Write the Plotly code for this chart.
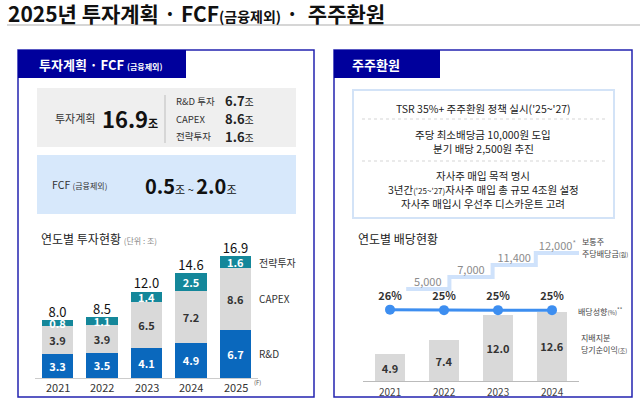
import plotly.graph_objects as go

# ---- data ----
years_inv = ["2021", "2022", "2023", "2024", "2025"]
rnd = [3.3, 3.5, 4.1, 4.9, 6.7]
capex = [3.9, 3.9, 6.5, 7.2, 8.6]
strategic = [0.8, 1.1, 1.4, 2.5, 1.6]

years_div = ["2021", "2022", "2023", "2024"]
dps_labels = ["5,000", "7,000", "11,400", "12,000"]
dps_notes = ["", "", "", "*"]
payout = [26, 25, 25, 25]
net_income = [4.9, 7.4, 12.0, 12.6]

W, H = 640, 401
FONT = "Noto Sans CJK KR"
NAVY = "#00009c"
BORDER = "#2323b0"


def px(x):
    return x / W


def py(y):
    return 1 - y / H


def dom_y(top, bottom):
    return [py(bottom), py(top)]


fig = go.Figure()

# ---- left: yearly investment (stacked) ----
idx5 = list(range(len(years_inv)))
fig.add_trace(go.Bar(x=idx5, y=rnd, marker_color="#0a68bd", text=rnd,
                     textfont=dict(color="white", size=11, family=FONT),
                     xaxis="x", yaxis="y"))
fig.add_trace(go.Bar(x=idx5, y=capex, marker_color="#d9d9d9", text=capex,
                     textfont=dict(color="#333333", size=11, family=FONT),
                     xaxis="x", yaxis="y"))
fig.add_trace(go.Bar(x=idx5, y=strategic, marker_color="#14879a", text=strategic,
                     textfont=dict(color="white", size=11, family=FONT),
                     xaxis="x", yaxis="y"))
fig.update_traces(selector=dict(type="bar"), texttemplate="<b>%{text:.1f}</b>",
                  textposition="inside", insidetextanchor="middle",
                  constraintext="none", marker_line_width=0)

totals = [round(a + b + c, 1) for a, b, c in zip(rnd, capex, strategic)]
fig.add_trace(go.Scatter(x=idx5, y=totals, mode="text",
                         text=[f"{t:.1f}" for t in totals],
                         textposition="top center",
                         textfont=dict(size=13, color="#111111", family=FONT),
                         xaxis="x", yaxis="y"))

# ---- right: dividends ----
idx4 = list(range(len(years_div)))
fig.add_trace(go.Bar(x=idx4, y=net_income, marker_color="#d9d9d9",
                     marker_line_width=0, text=net_income, width=30 / 54,
                     texttemplate="<b>%{text:.1f}</b>", textposition="inside",
                     insidetextanchor="middle", constraintext="none",
                     textfont=dict(color="#333333", size=11, family=FONT),
                     xaxis="x2", yaxis="y2"))

step_x = [i - 0.5 for i in idx4] + [idx4[-1] + 0.5]
step_y = dps_labels + [dps_labels[-1]]
fig.add_trace(go.Scatter(x=step_x, y=step_y, mode="lines", line_shape="hv",
                         line=dict(color="#cfe2fb", width=4),
                         xaxis="x3", yaxis="y3"))
fig.add_trace(go.Scatter(x=idx4, y=dps_labels, mode="text",
                         text=[l + (f"<sup>{n}</sup>" if n else "")
                               for l, n in zip(dps_labels, dps_notes)],
                         textposition="top center",
                         textfont=dict(size=11, color="#8c8c8c",
                                       family="Liberation Sans Narrow, " + FONT),
                         xaxis="x3", yaxis="y3"))

fig.add_trace(go.Scatter(x=idx4, y=payout, mode="lines+markers+text",
                         line=dict(color="#3d8ef0", width=3),
                         marker=dict(size=10, color="#3d8ef0"),
                         text=[f"<b>{p}%</b>" for p in payout],
                         textposition="top center",
                         textfont=dict(size=11, color="#333333", family=FONT),
                         xaxis="x2", yaxis="y4"))

# ---- axes ----
ax_common = dict(showgrid=False, zeroline=False, fixedrange=True)
fig.update_layout(
    xaxis=dict(domain=[px(35.25), px(257.75)], range=[-0.5, 4.5], showline=True,
               linecolor="#cccccc", showticklabels=False, ticks="", anchor="y",
               **ax_common),
    yaxis=dict(domain=dom_y(240, 378), range=[0, (378 - 240) / 7.2],
               visible=False, **ax_common),
    xaxis2=dict(domain=[px(363), px(579)], range=[-0.5, 3.5], showline=True,
                linecolor="#bbbbbb", showticklabels=False, ticks="", anchor="y2",
                **ax_common),
    yaxis2=dict(domain=dom_y(240, 381), range=[0, (381 - 240) / 5.5],
                visible=False, **ax_common),
    xaxis3=dict(domain=[px(346.2), px(578.85)], range=[-1.5, 3.5],
                overlaying="x2", visible=False, **ax_common),
    yaxis3=dict(type="category", categoryorder="array", categoryarray=dps_labels,
                range=[-92 / 12, -92 / 12 + 141 / 12], overlaying="y2",
                visible=False, **ax_common),
    yaxis4=dict(range=[25.25 - 142, 25.25 + 140], overlaying="y2",
                visible=False, **ax_common),
    barmode="stack", bargap=0.29, showlegend=False,
    width=W, height=H, margin=dict(l=0, r=0, t=0, b=0),
    paper_bgcolor="white", plot_bgcolor="rgba(0,0,0,0)",
    font=dict(family=FONT, color="#222222"),
)

# year labels under both charts
for i, yr in zip(idx5, years_inv):
    fig.add_annotation(x=i, xref="x", y=py(387), yref="paper", text=yr,
                       showarrow=False, yanchor="middle",
                       font=dict(size=11, color="#333333", family=FONT))
for i, yr in zip(idx4, years_div):
    fig.add_annotation(x=i, xref="x2", y=py(391), yref="paper", text=yr,
                       showarrow=False, yanchor="middle",
                       font=dict(size=10, color="#444444", family=FONT))

# ---- panels / boxes ----
shapes = [
    dict(type="line", x0=px(7), x1=px(640), y0=py(25), y1=py(25),
         line=dict(color="#c8c8c8", width=1.5)),
    dict(type="rect", x0=px(18), x1=px(314), y0=py(50), y1=py(397),
         line=dict(color=BORDER, width=1.5)),
    dict(type="rect", x0=px(18), x1=px(186), y0=py(50), y1=py(78),
         fillcolor=NAVY, line=dict(width=0)),
    dict(type="rect", x0=px(334), x1=px(632), y0=py(50), y1=py(397),
         line=dict(color=BORDER, width=1.5)),
    dict(type="rect", x0=px(334), x1=px(440), y0=py(50), y1=py(78),
         fillcolor=NAVY, line=dict(width=0)),
    dict(type="rect", x0=px(37), x1=px(296), y0=py(88), y1=py(147),
         fillcolor="#efefef", line=dict(width=0)),
    dict(type="line", x0=px(165), x1=px(165), y0=py(95), y1=py(143),
         line=dict(color="#bdbdbd", width=1)),
    dict(type="rect", x0=px(37), x1=px(296), y0=py(155), y1=py(214),
         fillcolor="#d7e8fb", line=dict(width=0)),
    dict(type="rect", x0=px(353), x1=px(614), y0=py(90), y1=py(218),
         fillcolor="white", line=dict(color="#d3e3f7", width=2)),
    dict(type="line", x0=px(362), x1=px(605), y0=py(119), y1=py(119),
         line=dict(color="#d5d5d5", width=1, dash="dot")),
    dict(type="line", x0=px(362), x1=px(605), y0=py(161), y1=py(161),
         line=dict(color="#d5d5d5", width=1, dash="dot")),
]
for s in shapes:
    s.update(xref="paper", yref="paper", layer="below")
fig.update_layout(shapes=shapes)


def note(x, y, text, size=11, color="#222222", anchor="left", bold=False):
    if bold:
        text = f"<b>{text}</b>"
    fig.add_annotation(x=px(x), y=py(y), xref="paper", yref="paper", text=text,
                       showarrow=False, xanchor=anchor, yanchor="middle",
                       font=dict(size=size, color=color, family=FONT))


note(6, 13, "2025년 투자계획 · FCF<span style='font-size:14px'>(금융제외)</span> ·  주주환원",
     size=21, color="#111111", bold=True)
note(37, 64, "투자계획 · FCF <span style='font-size:8px'>(금융제외)</span>",
     size=13, color="white", bold=True)
note(350, 64, "주주환원", size=13, color="white", bold=True)

# investment plan box
note(53, 118, "투자계획", size=11, color="#333333")
note(100, 118, "16.9<span style='font-size:11px'>조</span>", size=22, color="#111111", bold=True)
inv_names = ["R&D 투자", "CAPEX", "전략투자"]
inv_vals = [rnd[-1], capex[-1], strategic[-1]]
for i, (n, v) in enumerate(zip(inv_names, inv_vals)):
    yy = 101 + 17.5 * i
    note(174, yy, n, size=9.5, color="#333333")
    note(223, yy, f"<b>{v:.1f}</b><span style='font-size:10px'>조</span>", size=13, color="#222222")

note(50, 184, "FCF <span style='font-size:8px'>(금융제외)</span>", size=10.5, color="#333333")
note(143, 185, "<b>0.5</b><span style='font-size:11px'>조 ~ </span><b>2.0</b><span style='font-size:11px'>조</span>",
     size=20, color="#111111")

# left chart texts
note(39, 239, "연도별 투자현황 <span style='font-size:8px;color:#888888'>(단위 : 조)</span>",
     size=12, color="#222222")
note(252, 382, "(F)", size=6, color="#555555")
mid_str = rnd[-1] + capex[-1] + strategic[-1] / 2
mid_cap = rnd[-1] + capex[-1] / 2
mid_rnd = rnd[-1] / 2
for label, v in [("전략투자", mid_str), ("CAPEX", mid_cap), ("R&D", mid_rnd)]:
    fig.add_annotation(x=px(257), xref="paper", y=v, yref="y", text=label,
                       showarrow=False, xanchor="left",
                       font=dict(size=10, color="#333333", family=FONT))

# shareholder return box
lines = [
    (108, "TSR 35%+ 주주환원 정책 실시('25~'27)"),
    (134, "주당 최소배당금 10,000원 도입"),
    (148, "분기 배당 2,500원 추진"),
    (175, "자사주 매입 목적 명시"),
    (189, "3년간<span style='font-size:8px'>('25~'27)</span>자사주 매입 총 규모 4조원 설정"),
    (203, "자사주 매입시 우선주 디스카운트 고려"),
]
for yy, t in lines:
    note(483, yy, t, size=10.5, color="#222222", anchor="center")

# right chart texts
note(356, 239, "연도별 배당현황", size=12, color="#222222")
note(580, 241, "보통주", size=8, color="#444444")
note(580, 253, "주당배당금<span style='font-size:6px'>(원)</span>", size=8, color="#444444")
note(576, 311, "배당성향<span style='font-size:6px'>(%)</span><sup>**</sup>", size=8, color="#444444")
note(579, 337, "지배지분", size=8, color="#444444")
note(579, 349, "당기순이익<span style='font-size:6px'>(조)</span>", size=8, color="#444444")

# drop the default 8px body margin so the figure fills the window
fig.write_html("out.html", config={"displayModeBar": False},
               post_script="document.body.style.margin='0px';")
